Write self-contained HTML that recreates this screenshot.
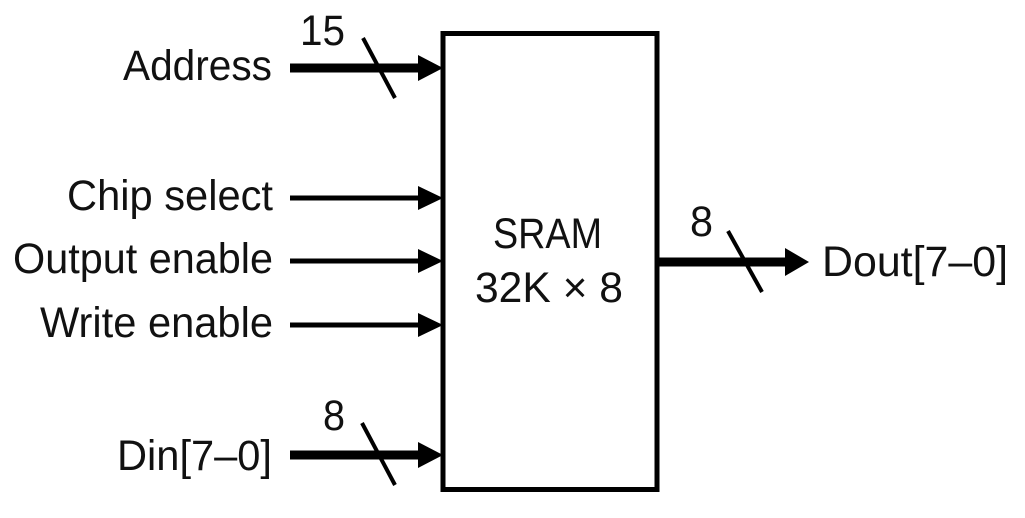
<!DOCTYPE html>
<html><head><meta charset="utf-8"><style>
html,body{margin:0;padding:0;background:#fff;}
svg{display:block;}
text{font-family:"Liberation Sans",sans-serif;font-size:43px;fill:#111;}
</style></head><body>
<svg width="1025" height="518" viewBox="0 0 1025 518" xmlns="http://www.w3.org/2000/svg">
<rect x="0" y="0" width="1025" height="518" fill="#fff"/>
<!-- box -->
<rect x="443" y="33.5" width="214" height="456" fill="none" stroke="#000" stroke-width="5"/>
<!-- Address bus -->
<line x1="290" y1="68" x2="420" y2="68" stroke="#000" stroke-width="9"/>
<polygon points="418,55 443,68 418,81" fill="#000"/>
<line x1="363" y1="38" x2="395" y2="98" stroke="#000" stroke-width="4"/>
<!-- Chip select -->
<line x1="290" y1="198" x2="420" y2="198" stroke="#000" stroke-width="5"/>
<polygon points="418,186 443,198 418,210" fill="#000"/>
<!-- Output enable -->
<line x1="290" y1="261" x2="420" y2="261" stroke="#000" stroke-width="5"/>
<polygon points="418,249 443,261 418,273" fill="#000"/>
<!-- Write enable -->
<line x1="290" y1="325" x2="420" y2="325" stroke="#000" stroke-width="5"/>
<polygon points="418,313 443,325 418,337" fill="#000"/>
<!-- Din bus -->
<line x1="290" y1="455" x2="420" y2="455" stroke="#000" stroke-width="9"/>
<polygon points="418,442 443,455 418,468" fill="#000"/>
<line x1="362" y1="423" x2="395" y2="485" stroke="#000" stroke-width="4"/>
<!-- Dout bus -->
<line x1="657" y1="262" x2="788" y2="262" stroke="#000" stroke-width="9"/>
<polygon points="785,248 809,262 785,276" fill="#000"/>
<line x1="728" y1="231" x2="762" y2="292" stroke="#000" stroke-width="4"/>
<!-- labels -->
<text x="123" y="80" textLength="149" lengthAdjust="spacingAndGlyphs">Address</text>
<text x="67" y="210" textLength="206" lengthAdjust="spacingAndGlyphs">Chip select</text>
<text x="13" y="273" textLength="260" lengthAdjust="spacingAndGlyphs">Output enable</text>
<text x="40" y="337" textLength="233" lengthAdjust="spacingAndGlyphs">Write enable</text>
<text x="117" y="470" textLength="155" lengthAdjust="spacingAndGlyphs">Din[7–0]</text>
<text x="822" y="276" textLength="186" lengthAdjust="spacingAndGlyphs">Dout[7–0]</text>
<text x="300" y="45" textLength="45" lengthAdjust="spacingAndGlyphs">15</text>
<text x="323" y="430" textLength="22" lengthAdjust="spacingAndGlyphs">8</text>
<text x="690" y="236" textLength="23" lengthAdjust="spacingAndGlyphs">8</text>
<text x="493" y="248" textLength="109" lengthAdjust="spacingAndGlyphs">SRAM</text>
<text x="475" y="302" textLength="148" lengthAdjust="spacingAndGlyphs">32K × 8</text>
</svg>
</body></html>
